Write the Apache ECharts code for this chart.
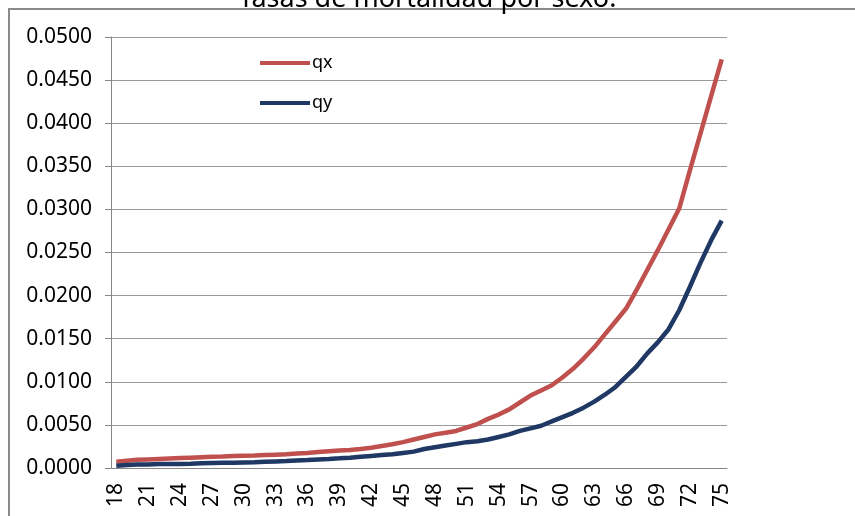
<!DOCTYPE html>
<html>
<head>
<meta charset="utf-8">
<script src="https://cdn.jsdelivr.net/npm/echarts@6/dist/echarts.min.js"></script>
<style>
  html, body { margin: 0; padding: 0; background: #fff; }
  #main { width: 855px; height: 516px; }
</style>
</head>
<body>
<div id="main"></div>
<script>
// edades 18..75
const ages = [];
for (let a = 18; a <= 75; a++) ages.push(String(a));

const qx = [
  0.00073, 0.00085, 0.00095, 0.00100, 0.00105, 0.00110, 0.00115, 0.00120, 0.00125, 0.00130,
  0.00133, 0.00138, 0.00142, 0.00145, 0.00150, 0.00155, 0.00160, 0.00168, 0.00175, 0.00185,
  0.00195, 0.00203, 0.00210, 0.00220, 0.00235, 0.00255, 0.00275, 0.00300, 0.00330, 0.00360,
  0.00390, 0.00410, 0.00430, 0.00470, 0.00510, 0.00570, 0.00620, 0.00680, 0.00760, 0.00840,
  0.00900, 0.00960, 0.01050, 0.01150, 0.01270, 0.01400, 0.01550, 0.01700, 0.01850, 0.02070,
  0.02300, 0.02530, 0.02770, 0.03010, 0.03450, 0.03880, 0.04310, 0.04740
];

const qy = [
  0.00025, 0.00035, 0.00040, 0.00042, 0.00045, 0.00046, 0.00047, 0.00050, 0.00055, 0.00058,
  0.00060, 0.00062, 0.00065, 0.00068, 0.00072, 0.00076, 0.00080, 0.00086, 0.00092, 0.00100,
  0.00105, 0.00112, 0.00120, 0.00130, 0.00140, 0.00150, 0.00160, 0.00175, 0.00190, 0.00220,
  0.00240, 0.00260, 0.00280, 0.00300, 0.00310, 0.00330, 0.00360, 0.00390, 0.00430, 0.00460,
  0.00490, 0.00540, 0.00590, 0.00640, 0.00700, 0.00770, 0.00850, 0.00940, 0.01060, 0.01180,
  0.01330, 0.01460, 0.01610, 0.01830, 0.02100, 0.02380, 0.02640, 0.02870
];

const font = 'Noto Sans';

const options = {
  animation: false,
  color: ['#C0504D', '#1F3864'],
  title: {
    text: 'Tasas de mortalidad por sexo.',
    left: 'center',
    top: -19,
    textStyle: { fontFamily: font, fontSize: 27, fontWeight: 'normal', color: '#000' }
  },
  legend: {
    orient: 'vertical',
    left: 255,
    top: 49,
    itemWidth: 50,
    itemHeight: 4,
    itemGap: 22,
    icon: 'rect',
    textStyle: { fontFamily: font, fontSize: 18, color: '#000', padding: [0, 0, 0, -3] }
  },
  graphic: [{
    type: 'rect',
    shape: { x: 9, y: 9, width: 900, height: 600 },
    style: { fill: 'none', stroke: '#8a8a8a', lineWidth: 2 },
    silent: true
  }],
  grid: { left: 111, right: 128, top: 37, bottom: 48 },
  xAxis: {
    type: 'category',
    data: ages,
    boundaryGap: true,
    axisLine: { lineStyle: { color: '#868686', width: 1 } },
    axisTick: { interval: 0, length: 7, lineStyle: { color: '#868686' } },
    axisLabel: {
      interval: 2,
      rotate: 90,
      margin: 15,
      fontFamily: font,
      fontSize: 21,
      color: '#000'
    }
  },
  yAxis: {
    type: 'value',
    min: 0,
    max: 0.05,
    interval: 0.005,
    axisLine: { show: true, lineStyle: { color: '#868686', width: 1 } },
    axisTick: { show: true, length: 6, lineStyle: { color: '#868686' } },
    splitLine: { lineStyle: { color: '#9a9a9a', width: 1 } },
    axisLabel: {
      margin: 19,
      fontFamily: font,
      fontSize: 21,
      color: '#000',
      formatter: v => v.toFixed(4)
    }
  },
  series: [
    {
      name: 'qx',
      type: 'line',
      data: qx,
      symbol: 'none',
      lineStyle: { width: 4.5 }
    },
    {
      name: 'qy',
      type: 'line',
      data: qy,
      symbol: 'none',
      lineStyle: { width: 4.5 }
    }
  ]
};

const myChart = echarts.init(document.getElementById('main'));
myChart.setOption(options);
</script>
</body>
</html>
